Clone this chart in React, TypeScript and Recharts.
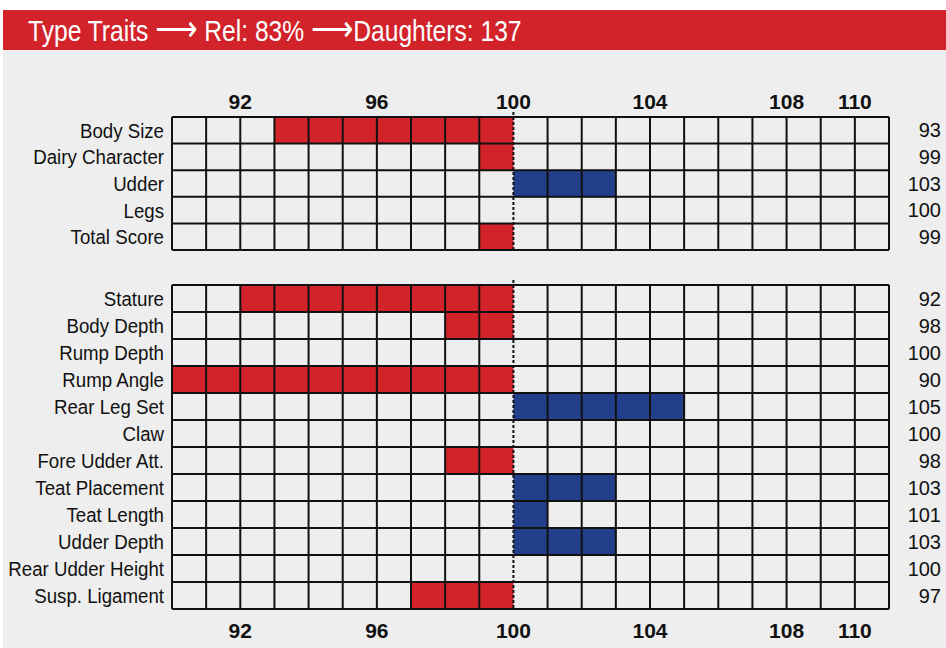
import React from "react";
import { BarChart, Bar, XAxis, YAxis, CartesianGrid, ReferenceLine, Cell } from "recharts";

const scaleMin = 90;
const scaleMax = 111;
const base = 100;
const xTicks = [92, 96, 100, 104, 108, 110];

const summaryTraits = ["Body Size", "Dairy Character", "Udder", "Legs", "Total Score"];
const summaryValues = [93, 99, 103, 100, 99];

const linearTraits = [
  "Stature",
  "Body Depth",
  "Rump Depth",
  "Rump Angle",
  "Rear Leg Set",
  "Claw",
  "Fore Udder Att.",
  "Teat Placement",
  "Teat Length",
  "Udder Depth",
  "Rear Udder Height",
  "Susp. Ligament",
];
const linearValues = [92, 98, 100, 90, 105, 100, 98, 103, 101, 103, 100, 97];

const RED = "#d2232a";
const BLUE = "#233f8c";
const BG = "#eeeeee";
const INK = "#111111";
const FONT = '"Liberation Sans", Arial, sans-serif';
const SQUEEZE = 0.89; // the original uses a condensed face

function toRows(names: string[], values: number[]) {
  return names.map((name, i) => ({
    name,
    value: values[i],
    range: [Math.min(values[i], base), Math.max(values[i], base)],
  }));
}

// trait name, right aligned and narrowed
const NameTick = ({ x, y, payload }: any) => (
  <text
    x={0}
    y={0}
    dy="0.36em"
    transform={`translate(${x},${y}) scale(${SQUEEZE},1)`}
    textAnchor="end"
    fontSize={21}
    fontFamily={FONT}
    fill={INK}
  >
    {payload.value}
  </text>
);

interface GridProps {
  names: string[];
  values: number[];
  top: number;
  height: number;
  axisSide: "top" | "bottom";
  margin: { top: number; right: number; bottom: number; left: number };
  axisHeight: number;
  tickMargin: number;
}

function TraitGrid({ names, values, top, height, axisSide, margin, axisHeight, tickMargin }: GridProps) {
  const data = toRows(names, values);

  // cell edges, every unit except the dashed 100 line
  const vLines = ({ offset }: any) => {
    const pts: number[] = [];
    for (let v = scaleMin; v <= scaleMax; v++) {
      if (v === base) continue;
      pts.push(offset.left + ((v - scaleMin) / (scaleMax - scaleMin)) * offset.width);
    }
    return pts;
  };
  const hLines = ({ offset }: any) =>
    Array.from({ length: data.length + 1 }, (_, i) => offset.top + (i * offset.height) / data.length);

  return (
    <div style={{ position: "absolute", left: 0, top }}>
      <BarChart width={946} height={height} data={data} layout="vertical" margin={margin} barCategoryGap={0}>
        <XAxis
          type="number"
          domain={[scaleMin, scaleMax]}
          ticks={xTicks}
          interval={0}
          orientation={axisSide}
          height={axisHeight}
          axisLine={false}
          tickLine={false}
          tickMargin={tickMargin}
          tick={{ fill: INK, fontSize: 21, fontWeight: 600, fontFamily: FONT }}
        />
        <YAxis
          type="category"
          dataKey="name"
          width={172}
          interval={0}
          axisLine={false}
          tickLine={false}
          tick={<NameTick />}
        />
        <YAxis
          yAxisId="r"
          orientation="right"
          type="category"
          dataKey="name"
          width={57}
          interval={0}
          axisLine={false}
          tickLine={false}
          tickMargin={46}
          tickFormatter={(n: string) => String(values[names.indexOf(n)])}
          tick={{ fill: INK, fontSize: 20, fontFamily: FONT, textAnchor: "end" }}
        />
        <Bar dataKey="range" isAnimationActive={false}>
          {data.map((d) => (
            <Cell key={d.name} fill={d.value < base ? RED : BLUE} />
          ))}
        </Bar>
        <CartesianGrid
          fill="none"
          stroke={INK}
          strokeWidth={2}
          verticalCoordinatesGenerator={vLines}
          horizontalCoordinatesGenerator={hLines}
          zIndex={2000}
        />
        <ReferenceLine
          x={base}
          stroke={INK}
          strokeWidth={2}
          strokeDasharray="3 2"
          zIndex={2100}
          shape={(p: any) => (
            <line x1={p.x1} y1={Math.min(p.y1, p.y2) - 5} x2={p.x2} y2={Math.max(p.y1, p.y2)} stroke={INK} strokeWidth={2} strokeDasharray="3 2" />
          )}
        />
      </BarChart>
    </div>
  );
}

const arrow = <span style={{ fontSize: 36, fontFamily: '"DejaVu Sans", sans-serif' }}>⟶</span>;

export default function App() {
  return (
    <div style={{ position: "relative", width: 946, height: 648, background: "#fff", fontFamily: FONT, overflow: "hidden" }}>
      <style>{"body{margin:0}"}</style>
      <div
        style={{
          position: "absolute",
          left: 3,
          top: 10,
          width: 943,
          height: 40,
          background: RED,
        }}
      >
        <div
          style={{
            position: "absolute",
            left: 25,
            top: -1,
            color: "#fff",
            fontSize: 30,
            lineHeight: "40px",
            whiteSpace: "nowrap",
            transform: "scaleX(0.82)",
            transformOrigin: "left center",
          }}
        >
          Type Traits {arrow} Rel: 83% {arrow}Daughters: 137
        </div>
      </div>
      <div style={{ position: "absolute", left: 3, top: 50, width: 943, height: 598, background: BG }} />
      <TraitGrid
        names={summaryTraits}
        values={summaryValues}
        top={80}
        height={175}
        axisSide="top"
        axisHeight={30}
        tickMargin={2}
        margin={{ top: 7, right: 0, bottom: 5, left: 0 }}
      />
      <TraitGrid
        names={linearTraits}
        values={linearValues}
        top={275}
        height={373}
        axisSide="bottom"
        axisHeight={39}
        tickMargin={8}
        margin={{ top: 10, right: 0, bottom: 0, left: 0 }}
      />
    </div>
  );
}
